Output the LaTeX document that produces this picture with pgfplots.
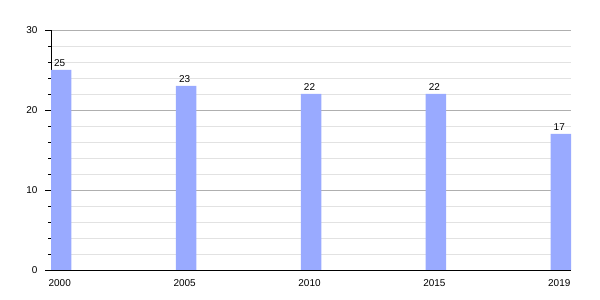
\documentclass[border=0pt]{standalone}
\usepackage{pgfplots}
\pgfplotsset{compat=1.18}
\usepackage{fontspec}
\setmainfont{Liberation Sans}
\definecolor{barc}{RGB}{153,170,255}
\definecolor{majg}{RGB}{175,175,175}
\definecolor{ming}{RGB}{226,226,226}
\begin{document}
\fontsize{10}{12}\selectfont
\begin{tikzpicture}
\path[use as bounding box] (0,0) rectangle (600bp,300bp);
\begin{axis}[
  at={(51bp,30bp)}, anchor=south west,
  width=520bp, height=240bp, scale only axis,
  xmin=-0.082, xmax=4.082, ymin=0, ymax=30,
  xtick={0,1,2,3,4}, xticklabels={2000,2005,2010,2015,2019},
  ytick={0,10,20,30}, minor y tick num=4,
  axis x line*=bottom, axis y line*=left,
  axis line style={black},
  tick align=outside,
  major tick length=6bp, minor tick length=3bp,
  xtick style={draw=none},
  ytick style={black},
  ymajorgrids, yminorgrids,
  major grid style={color=majg, line width=0.6pt},
  minor grid style={color=ming, line width=0.6pt},
  /pgf/number format/assume math mode=true,
  ticklabel style={font=\fontsize{10}{12}\selectfont},
  yticklabel style={xshift=-4bp},
  xticklabel style={xshift=-1.5bp},
  ybar, bar width=20.5bp,
  nodes near coords,
  nodes near coords style={font=\fontsize{10}{12}\selectfont, inner sep=3.5pt, xshift=-1.5bp},
]
\addplot[fill=barc, draw=none] coordinates {(0,25) (1,23) (2,22) (3,22) (4,17)};
\end{axis}
\end{tikzpicture}
\end{document}
